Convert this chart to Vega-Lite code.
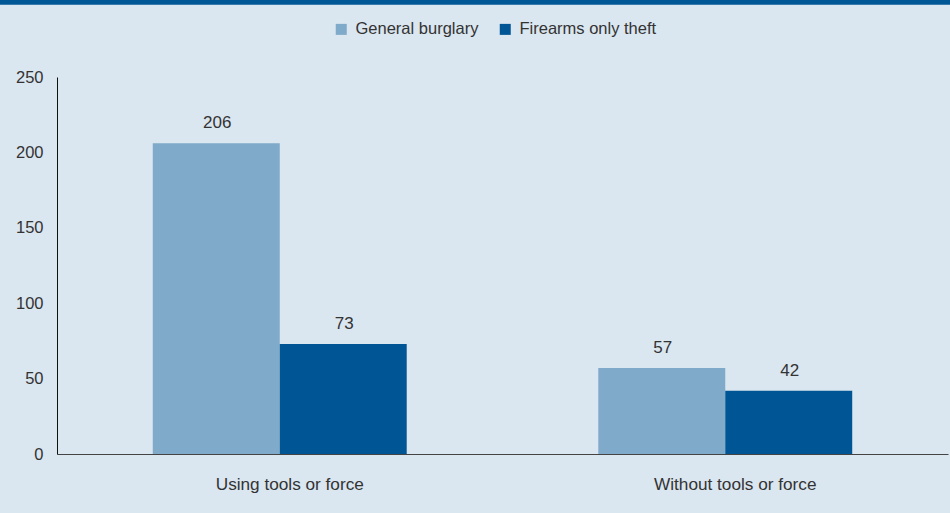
{
  "$schema": "https://vega.github.io/schema/vega-lite/v6.json",
  "width": 950,
  "height": 513,
  "autosize": "none",
  "padding": 0,
  "background": "#dae6f0",
  "config": {
    "view": {"stroke": null},
    "font": "Liberation Sans",
    "axis": {"labelFont": "Liberation Sans", "labelFontSize": 16.5, "labelColor": "#333333", "ticks": false, "grid": false, "title": null, "domainColor": "#333333", "domainWidth": 1},
    "legend": {"labelFont": "Liberation Sans", "labelFontSize": 16.5, "labelColor": "#333333"}
  },
  "data": {
    "values": [
      {"category": "Using tools or force", "series": "General burglary", "value": 206},
      {"category": "Using tools or force", "series": "Firearms only theft", "value": 73},
      {"category": "Without tools or force", "series": "General burglary", "value": 57},
      {"category": "Without tools or force", "series": "Firearms only theft", "value": 42}
    ]
  },
  "encoding": {
    "x": {"field": "category", "type": "nominal", "sort": null,
      "scale": {"range": [57, 948], "paddingInner": 0.43, "paddingOuter": 0.215},
      "axis": {"labelAngle": 0, "labelPadding": 21, "labelOffset": 10, "labelFontSize": 17.2, "offset": -59, "domainColor": "#444444"}},
    "xOffset": {"field": "series", "type": "nominal", "sort": ["General burglary", "Firearms only theft"], "scale": {"paddingInner": 0, "paddingOuter": 0}},
    "y": {"field": "value", "type": "quantitative",
      "scale": {"domain": [0, 250], "range": [454, 77], "nice": false},
      "axis": {"values": [0, 50, 100, 150, 200, 250], "offset": -57, "labelPadding": 14, "domainColor": "#111111"}}
  },
  "layer": [
    {
      "mark": {"type": "bar"},
      "encoding": {
        "color": {"field": "series", "type": "nominal", "sort": ["General burglary", "Firearms only theft"],
          "scale": {"domain": ["General burglary", "Firearms only theft"], "range": ["#7faac9", "#005594"]},
          "legend": {"title": null, "orient": "none", "direction": "horizontal", "legendX": 333, "legendY": 21, "symbolType": "square", "symbolSize": 121, "symbolStrokeWidth": 0, "labelOffset": 6, "columnPadding": 18, "padding": 0}}
      }
    },
    {
      "mark": {"type": "text", "baseline": "bottom", "dy": -11, "fontSize": 17, "dx": 1, "color": "#333333", "font": "Liberation Sans"},
      "encoding": {"text": {"field": "value", "type": "quantitative"}}
    },
    {
      "data": {"values": [{"edge": 299.5}]},
      "mark": {"type": "rule", "color": "#005796", "strokeWidth": 5},
      "encoding": {"y": {"field": "edge", "type": "quantitative"}, "x": null, "xOffset": null}
    }
  ]
}
